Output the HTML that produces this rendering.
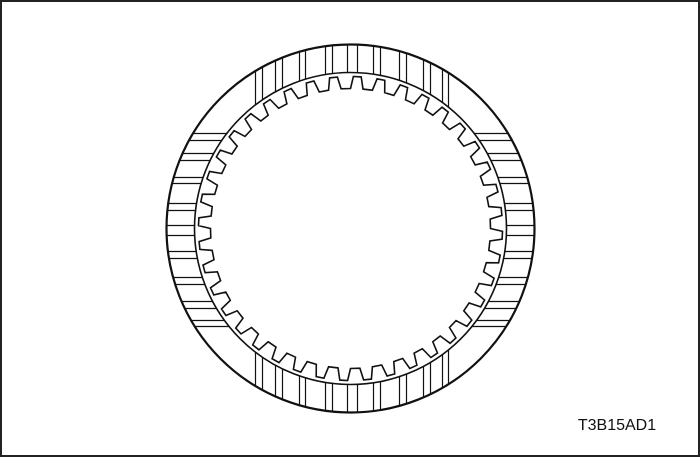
<!DOCTYPE html>
<html><head><meta charset="utf-8"><style>
html,body{margin:0;padding:0;background:#fff}
svg{display:block}
</style></head><body>
<svg id="s" width="700" height="457" viewBox="0 0 700 457">
<rect x="1" y="1" width="698" height="455" fill="#fff" stroke="#222" stroke-width="2"/>
<g id="g" fill="none" stroke="#111" stroke-width="1.6"></g>
<text x="617" y="430" font-family="Liberation Sans, sans-serif" font-size="16" text-anchor="middle" fill="#111">T3B15AD1</text>
</svg>
<script>
const cx=350.5, cy=228.5, R=184, Ri=156, Rt=152, Rr=140;
const teeth=40;
const grooveOffsets=[-95,-88,-75,-68,-51,-45,-25,-18,-3,7,23,30,49,56,73,80,92,98];
const g=document.getElementById('g');
const NS='http://www.w3.org/2000/svg';
function add(tag,attrs,name){const e=document.createElementNS(NS,tag);for(const k in attrs)e.setAttribute(k,attrs[k]);


g.appendChild(e);return e;}
add('circle',{cx:cx,cy:cy,r:R,'stroke-width':2.2},'outer-edge');
add('circle',{cx:cx,cy:cy,r:Ri,'stroke-width':1.6},'friction-inner-edge');
let d='';
const n=teeth, step=2*Math.PI/n;
for(let i=0;i<n;i++){
  const a0=i*step-Math.PI/2;
  const pts=[[Rr,a0],[Rt,a0+step*0.12],[Rt,a0+step*0.45],[Rr,a0+step*0.57],[Rr,a0+step]];
  pts.forEach((p,j)=>{const x=cx+p[0]*Math.cos(p[1]),y=cy+p[0]*Math.sin(p[1]);d+=(i===0&&j===0?'M':'L')+x.toFixed(1)+' '+y.toFixed(1)+' ';});
}
add('path',{d:d+'Z'},'spline-teeth');
grooveOffsets.forEach(o=>{
  const yo=Math.sqrt(R*R-o*o), yi=Math.sqrt(Ri*Ri-o*o);
  add('line',{x1:cx+o,y1:cy-yo,x2:cx+o,y2:cy-yi,'stroke-width':1.2},'groove-top');
  add('line',{x1:cx+o,y1:cy+yo,x2:cx+o,y2:cy+yi,'stroke-width':1.2},'groove-bottom');
  add('line',{x1:cx-yo,y1:cy+o,x2:cx-yi,y2:cy+o,'stroke-width':1.2},'groove-left');
  add('line',{x1:cx+yo,y1:cy+o,x2:cx+yi,y2:cy+o,'stroke-width':1.2},'groove-right');
});
</script>
</body></html>
